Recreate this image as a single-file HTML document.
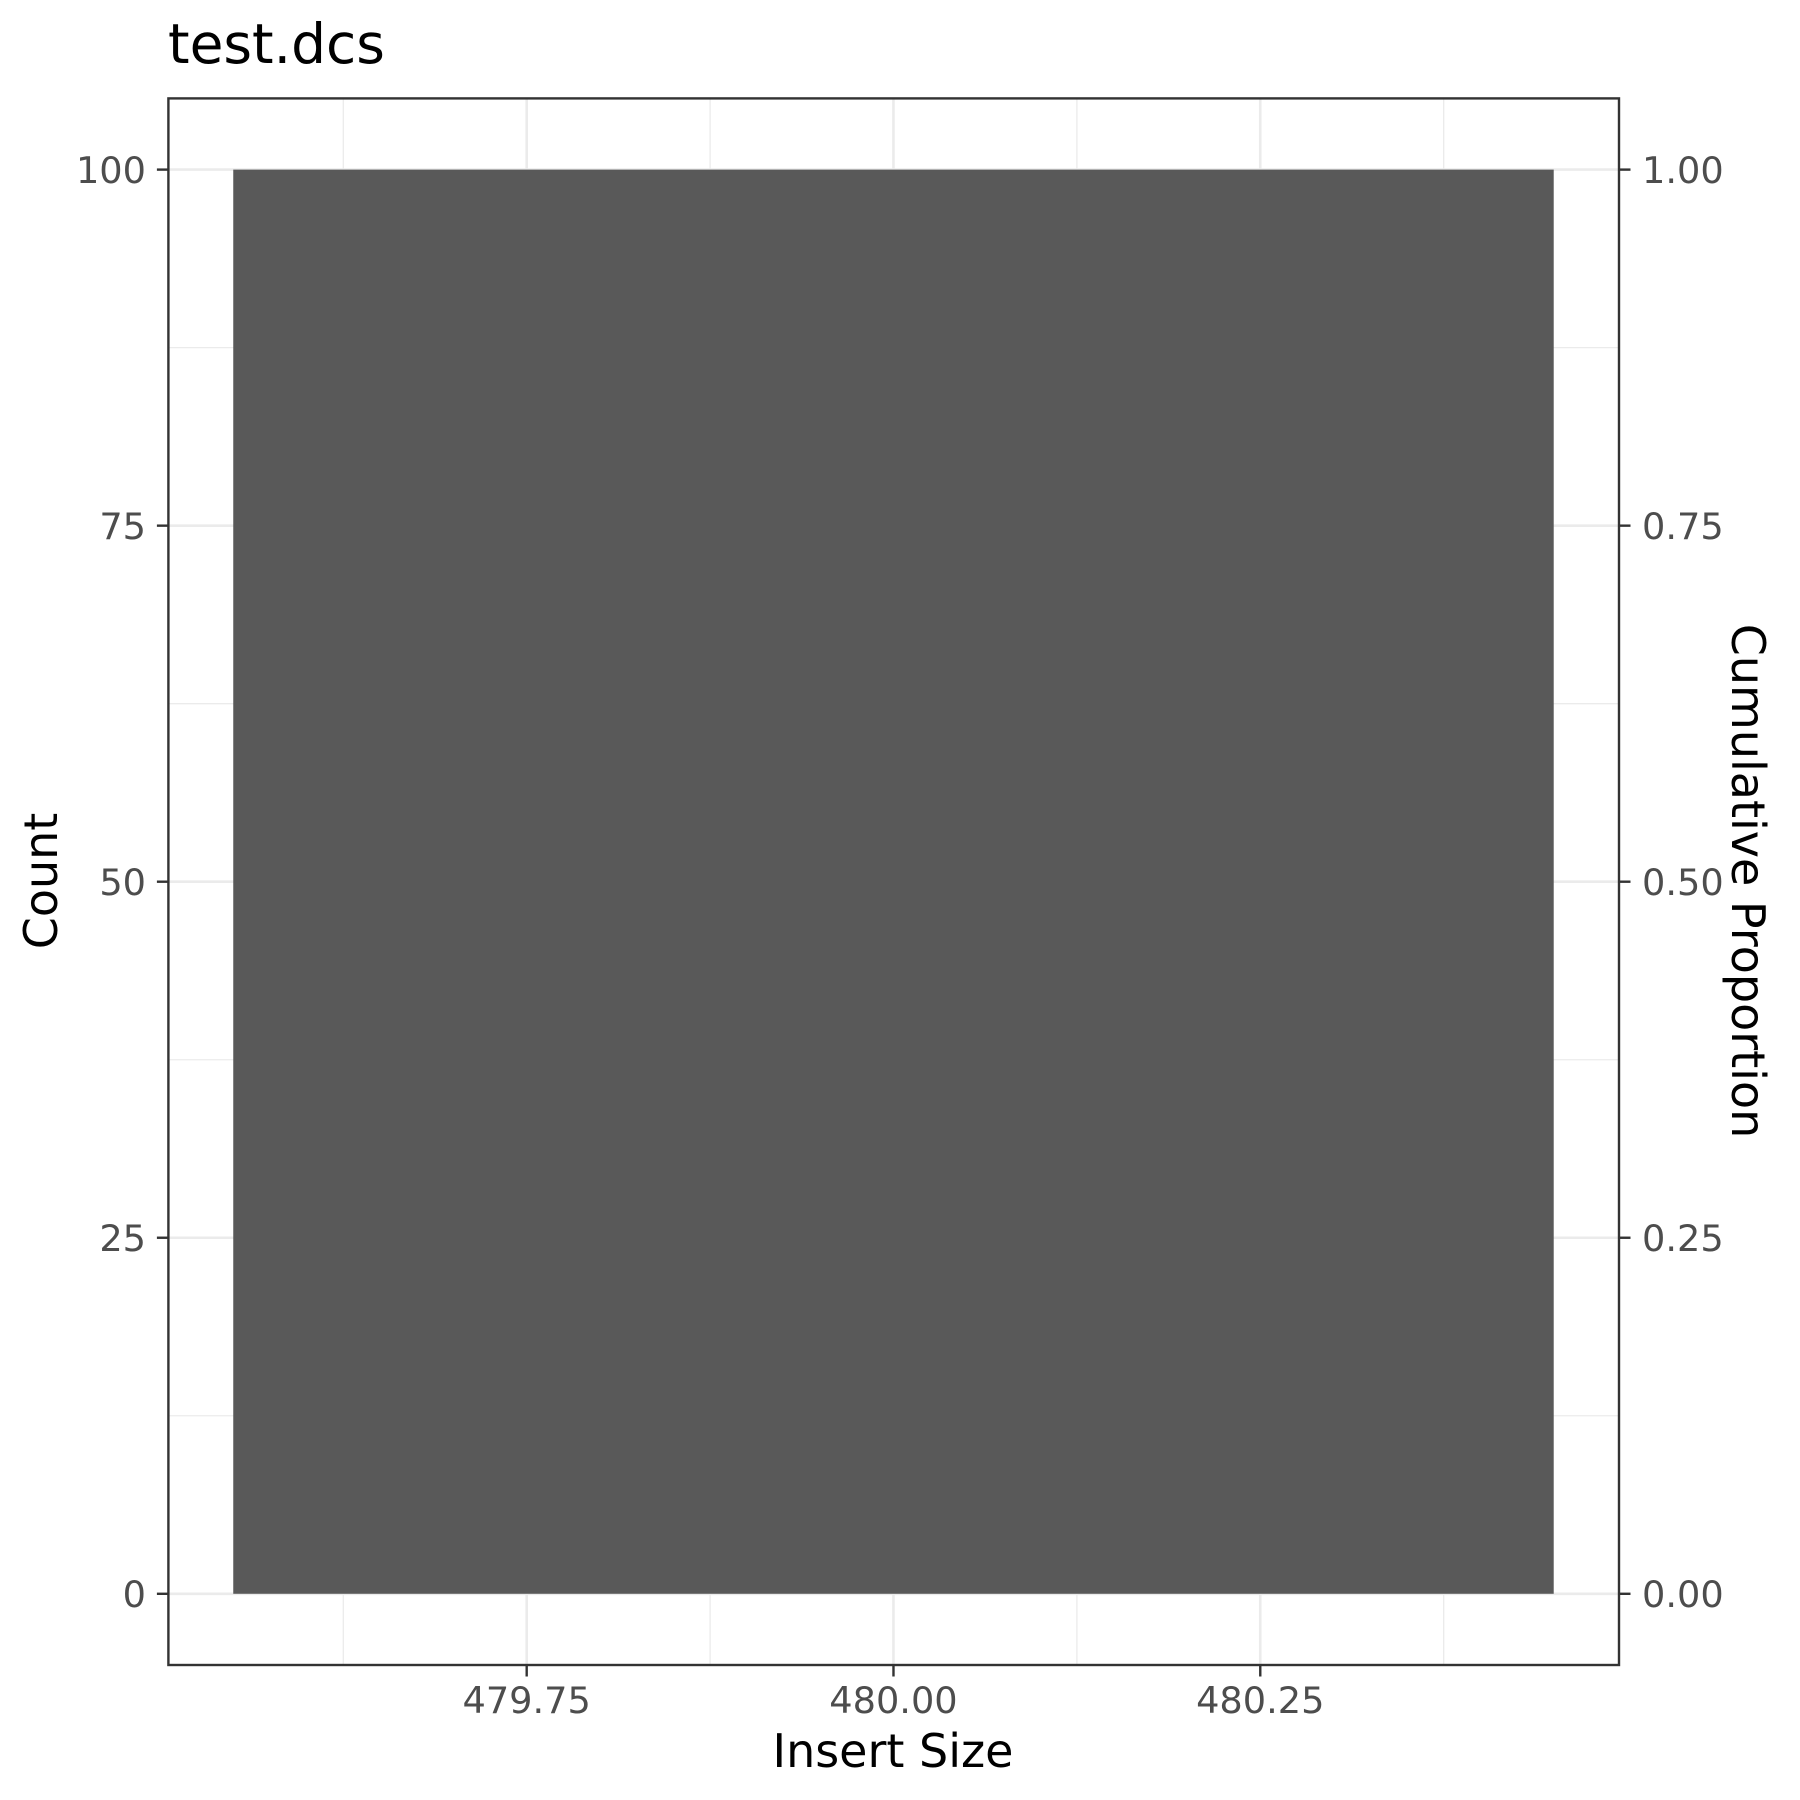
<!DOCTYPE html>
<html><head><meta charset="utf-8"><style>
html,body{margin:0;padding:0;background:#fff;}
svg{display:block;font-family:"DejaVu Sans","Liberation Sans",sans-serif;}
</style></head><body>
<svg id="chart" width="1800" height="1800" viewBox="0 0 1800 1800" xmlns="http://www.w3.org/2000/svg">
<text x="168" y="63" font-size="55" fill="#000">test.dcs</text>
<g id="grid"></g>
<g id="bars"></g>
<rect x="168.4" y="98.4" width="1450.6" height="1566.6" fill="none" stroke="#333" stroke-width="2.4"/>
<g id="axes"></g>
<text x="893" y="1767" font-size="46" text-anchor="middle" fill="#000">Insert Size</text>
<text transform="translate(57,881) rotate(-90)" font-size="46" text-anchor="middle" fill="#000">Count</text>
<text transform="translate(1732,881) rotate(90)" font-size="46" text-anchor="middle" fill="#000">Cumulative Proportion</text>
</svg>
<script>
const binCenters = [480.0];
const binCounts = [100];
const binWidth = 0.9;
const xTicks = [479.75, 480.0, 480.25];
const xTickLabels = ["479.75", "480.00", "480.25"];
const xMinor = [479.625, 479.875, 480.125, 480.375];
const yTicks = [0, 25, 50, 75, 100];
const yTickLabels = ["0", "25", "50", "75", "100"];
const yMinor = [12.5, 37.5, 62.5, 87.5];
const y2TickLabels = ["0.00", "0.25", "0.50", "0.75", "1.00"];

const NS = "http://www.w3.org/2000/svg";
const L = 168.4, R = 1619, T = 98.4, B = 1665;
const xDom = [479.5058, 480.4945], yDom = [-5, 105];
function sx(v){ return L + (v - xDom[0]) / (xDom[1] - xDom[0]) * (R - L); }
function sy(v){ return B - (v - yDom[0]) / (yDom[1] - yDom[0]) * (B - T); }
function mk(tag, attrs, parent){ const e = document.createElementNS(NS, tag); for (const k in attrs) e.setAttribute(k, attrs[k]); parent.appendChild(e); return e; }

const grid = document.getElementById('grid');
const bars = document.getElementById('bars');
const axes = document.getElementById('axes');

xMinor.forEach(v => { const e = mk('line', {x1: sx(v), x2: sx(v), y1: T, y2: B, stroke: '#ebebeb', 'stroke-width': 1.3}, grid);
  
   });
yMinor.forEach(v => { const e = mk('line', {x1: L, x2: R, y1: sy(v), y2: sy(v), stroke: '#ebebeb', 'stroke-width': 1.3}, grid);
  
   });
xTicks.forEach(v => { const e = mk('line', {x1: sx(v), x2: sx(v), y1: T, y2: B, stroke: '#ebebeb', 'stroke-width': 2.6}, grid);
  
   });
yTicks.forEach(v => { const e = mk('line', {x1: L, x2: R, y1: sy(v), y2: sy(v), stroke: '#ebebeb', 'stroke-width': 2.6}, grid);
  
   });

binCenters.forEach((c, i) => {
  const x0 = sx(c - binWidth / 2), x1 = sx(c + binWidth / 2);
  const e = mk('rect', {x: x0, y: sy(binCounts[i]), width: x1 - x0, height: sy(0) - sy(binCounts[i]), fill: '#595959'}, bars);
  
  
});

xTicks.forEach((v, i) => {
  const t = mk('line', {x1: sx(v), x2: sx(v), y1: B, y2: B + 11.5, stroke: '#333', 'stroke-width': 2.4}, axes);
  
  
  const l = mk('text', {x: sx(v), y: 1713, 'font-size': 36.7, fill: '#4d4d4d', 'text-anchor': 'middle'}, axes);
  l.textContent = xTickLabels[i];
  
  
});
yTicks.forEach((v, i) => {
  const t = mk('line', {x1: L - 11.5, x2: L, y1: sy(v), y2: sy(v), stroke: '#333', 'stroke-width': 2.4}, axes);
  
  
  const l = mk('text', {x: 146, y: sy(v) + 13.3, 'font-size': 36.7, fill: '#4d4d4d', 'text-anchor': 'end'}, axes);
  l.textContent = yTickLabels[i];
  
  
  const t2 = mk('line', {x1: R, x2: R + 11.5, y1: sy(v), y2: sy(v), stroke: '#333', 'stroke-width': 2.4}, axes);
  
  
  const l2 = mk('text', {x: 1642, y: sy(v) + 13.3, 'font-size': 36.7, fill: '#4d4d4d'}, axes);
  l2.textContent = y2TickLabels[i];
  
  
});
</script>
</body></html>
